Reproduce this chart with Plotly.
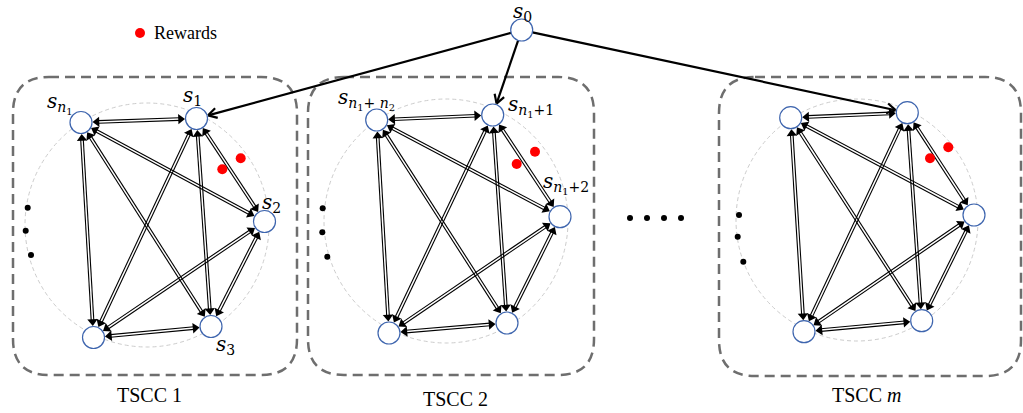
import numpy as np
import plotly.graph_objects as go

W, H = 1023, 413

# ---------------- data ----------------
cluster_names = ["TSCC 1", "TSCC 2", "TSCC <i>m</i>"]
cluster_label_x = [149, 455, 866]
cluster_label_y = [395, 399, 395]

box_x0 = [13, 308, 719]
box_x1 = [297, 594, 1021]
box_y0 = [77, 77, 77]
box_y1 = [375, 375, 376]

ring_cx = [147, 446, 857]
ring_cy = [225, 221, 220]
ring_r = [122, 122, 121]

# node centres per cluster: top-left, top-right, right, bottom-right, bottom-left
node_x = [[81, 196.5, 264.5, 211, 93.5],
          [376.7, 492.7, 560, 507, 389],
          [790.7, 907.3, 974, 921.7, 804]]
node_y = [[122.5, 118.5, 221.5, 326.5, 337.5],
          [120, 115, 216.7, 323, 333],
          [117.7, 112.7, 215, 320.7, 331.7]]
edges = [(0, 1), (0, 2), (0, 3), (0, 4), (1, 2), (1, 3), (1, 4), (2, 3), (2, 4), (3, 4)]
entry_node = 1
s0_x, s0_y = 521.7, 30

reward_x = [[240.7, 222.3], [535, 516.7], [948.3, 930]]
reward_y = [[158.3, 169.3], [151.7, 164], [147.3, 158.3]]
ellipsis_x = [[27.7, 25.7, 31], [322.7, 322.3, 327.3], [739, 737.7, 743.3]]
ellipsis_y = [[207.7, 230.7, 255], [208.3, 232.3, 256.7], [215, 236.7, 261.7]]
between_x = [630, 647, 664, 681]
between_y = [218, 218, 218, 218]

state_labels = [
    "<i>s</i><sub>0</sub>",
    "<i>s</i><sub><i>n</i><sub>1</sub></sub>",
    "<i>s</i><sub>1</sub>",
    "<i>s</i><sub>2</sub>",
    "<i>s</i><sub>3</sub>",
    "<i>s</i><sub><i>n</i><sub>1</sub>+ <i>n</i><sub>2</sub></sub>",
    "<i>s</i><sub><i>n</i><sub>1</sub>+1</sub>",
    "<i>s</i><sub><i>n</i><sub>1</sub>+2</sub>",
]
state_label_x = [522, 60, 192, 271, 225, 366, 531, 566]
state_label_y = [12, 103, 96, 203, 345, 99, 106, 183]

legend_text = "Rewards"
legend_dot = (140, 33)

# ---------------- figure ----------------
R = 11.0          # node radius (px)
TRI = 9.0         # arrowhead marker size
OFF = 1.3         # half gap of double line

fig = go.Figure()
shapes = []

for k in range(3):
    x0, x1, y0, y1 = box_x0[k], box_x1[k], box_y0[k], box_y1[k]
    c = 36
    path = (f"M {x0+c},{y0} L {x1-c},{y0} Q {x1},{y0} {x1},{y0+c} "
            f"L {x1},{y1-c} Q {x1},{y1} {x1-c},{y1} L {x0+c},{y1} "
            f"Q {x0},{y1} {x0},{y1-c} L {x0},{y0+c} Q {x0},{y0} {x0+c},{y0} Z")
    shapes.append(dict(type="path", path=path, xref="x", yref="y", layer="below",
                       line=dict(color="#6e6e6e", width=2.5, dash="10px,6px")))
    shapes.append(dict(type="circle", xref="x", yref="y", layer="below",
                       x0=ring_cx[k] - ring_r[k], x1=ring_cx[k] + ring_r[k],
                       y0=ring_cy[k] - ring_r[k], y1=ring_cy[k] + ring_r[k],
                       line=dict(color="#cccccc", width=1, dash="4px,3px")))

lx, ly = [], []
hx, hy, ha = [], [], []
for k in range(3):
    for a, b in edges:
        p = np.array([node_x[k][a], node_y[k][a]])
        q = np.array([node_x[k][b], node_y[k][b]])
        u = (q - p) / np.linalg.norm(q - p)
        n = np.array([-u[1], u[0]])
        tip_b = q - u * (R + 0.5)
        tip_a = p + u * (R + 0.5)
        la = tip_a + u * 5.5
        lb = tip_b - u * 5.5
        for s in (-OFF, OFF):
            lx += [la[0] + s * n[0], lb[0] + s * n[0], None]
            ly += [la[1] + s * n[1], lb[1] + s * n[1], None]
        r = TRI / 2
        for tip, d in ((tip_b, u), (tip_a, -u)):
            cpt = tip - d * r
            hx.append(cpt[0]); hy.append(cpt[1])
            ha.append(float(np.degrees(np.arctan2(d[0], -d[1]))))

fig.add_trace(go.Scatter(x=lx, y=ly, mode="lines", line=dict(color="black", width=1.1),
                         hoverinfo="skip"))
fig.add_trace(go.Scatter(x=hx, y=hy, mode="markers", hoverinfo="skip",
                         marker=dict(symbol="triangle-up", size=TRI, color="black",
                                     angle=ha, line=dict(width=0))))

# s0 arrows
ax_, ay_ = [], []
for k in range(3):
    p = np.array([s0_x, s0_y])
    q = np.array([node_x[k][entry_node], node_y[k][entry_node]])
    u = (q - p) / np.linalg.norm(q - p)
    st = p + u * R
    tip = q - u * (R + 1)
    ax_ += [st[0], tip[0] - u[0], None]
    ay_ += [st[1], tip[1] - u[1], None]
    L = 10
    for ang in (np.radians(30), -np.radians(30)):
        rot = np.array([u[0] * np.cos(ang) - u[1] * np.sin(ang),
                        u[0] * np.sin(ang) + u[1] * np.cos(ang)])
        w = tip - L * rot
        ax_ += [w[0], tip[0], None]
        ay_ += [w[1], tip[1], None]
fig.add_trace(go.Scatter(x=ax_, y=ay_, mode="lines", line=dict(color="black", width=2.2),
                         hoverinfo="skip"))

# nodes
nx = [s0_x] + [v for row in node_x for v in row]
ny = [s0_y] + [v for row in node_y for v in row]
fig.add_trace(go.Scatter(x=nx, y=ny, mode="markers", hoverinfo="skip",
                         marker=dict(symbol="circle", size=2 * R, color="white",
                                     line=dict(color="#3E65AE", width=1.2))))

# rewards + dots
rx = [legend_dot[0]] + [v for row in reward_x for v in row]
ry = [legend_dot[1]] + [v for row in reward_y for v in row]
fig.add_trace(go.Scatter(x=rx, y=ry, mode="markers", hoverinfo="skip",
                         marker=dict(size=10, color="#ff0000", line=dict(width=0))))
ex = [v for row in ellipsis_x for v in row] + between_x
ey = [v for row in ellipsis_y for v in row] + between_y
fig.add_trace(go.Scatter(x=ex, y=ey, mode="markers", hoverinfo="skip",
                         marker=dict(size=6, color="black", line=dict(width=0))))

annotations = []
for t, x, y in zip(state_labels, state_label_x, state_label_y):
    annotations.append(dict(x=x, y=y, xref="x", yref="y", text=t, showarrow=False,
                            xanchor="center", yanchor="middle",
                            font=dict(family="DejaVu Serif", size=20, color="black")))
for t, x, y in zip(cluster_names, cluster_label_x, cluster_label_y):
    annotations.append(dict(x=x, y=y, xref="x", yref="y", text=t, showarrow=False,
                            xanchor="center", yanchor="middle",
                            font=dict(family="Liberation Serif", size=20, color="black")))
annotations.append(dict(x=152, y=33, xref="x", yref="y", text=legend_text, showarrow=False,
                        xanchor="left", yanchor="middle",
                        font=dict(family="Liberation Serif", size=18, color="black")))

fig.update_layout(
    width=W, height=H, margin=dict(l=0, r=0, t=0, b=0),
    paper_bgcolor="white", plot_bgcolor="white", showlegend=False,
    xaxis=dict(range=[0, W], visible=False, fixedrange=True),
    yaxis=dict(range=[H, 0], visible=False, fixedrange=True),
    shapes=shapes, annotations=annotations,
)
fig.write_html(
    "out.html",
    config={"displayModeBar": False},
    post_script="document.body.style.margin='0';document.body.style.padding='0';"
                "document.body.style.overflow='hidden';"
                "document.documentElement.style.overflow='hidden';",
)
